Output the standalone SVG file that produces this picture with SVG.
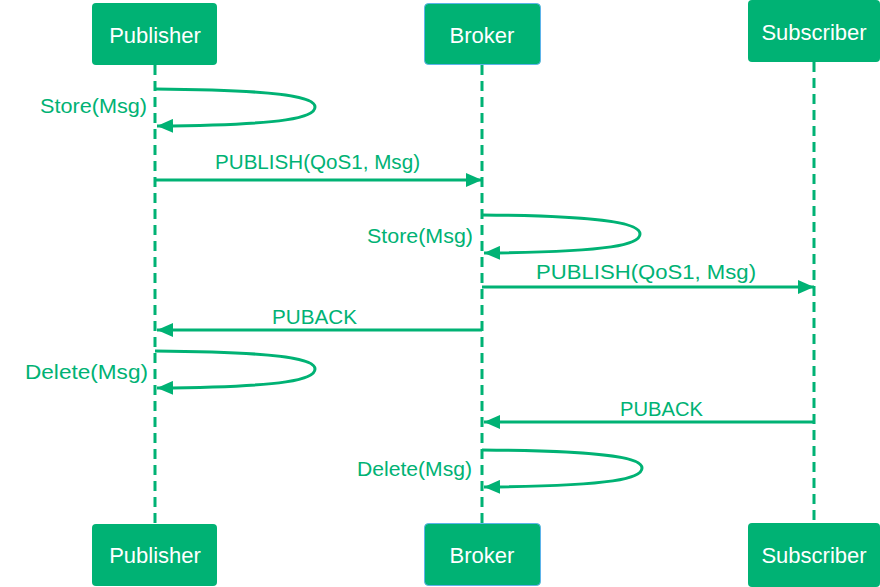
<svg xmlns="http://www.w3.org/2000/svg" width="880" height="587" viewBox="0 0 880 587">
<style>
.box{fill:#00B274;}
.bk{stroke:#5DB3EA;stroke-width:1;}
.title{font-family:"Liberation Sans",Arial,sans-serif;font-size:22px;fill:#ffffff;text-anchor:middle;}
.life{stroke:#00B274;stroke-width:3;stroke-dasharray:10 6;fill:none;}
.msg{stroke:#00B274;stroke-width:3;fill:none;marker-end:url(#ah);}
.lbl{font-family:"Liberation Sans",Arial,sans-serif;font-size:20px;fill:#00B274;}
</style>
<defs>
<marker id="ah" viewBox="0 0 16 14" refX="16" refY="7" markerWidth="16" markerHeight="14" markerUnits="userSpaceOnUse" orient="auto">
<path d="M0,0 L16,7 L0,14 z" fill="#00B274"/>
</marker>
</defs>
<rect width="880" height="587" fill="#ffffff"/>
<g id="lifelines">
<line class="life" x1="155" y1="65" x2="155" y2="524"/>
<line class="life" x1="482" y1="65" x2="482" y2="523"/>
<line class="life" x1="814" y1="62" x2="814" y2="523"/>
</g>
<g id="publisher-top"><rect class="box" x="92" y="3" width="125" height="62" rx="4"/><text class="title" x="155" y="43">Publisher</text></g>
<g id="broker-top"><rect class="box bk" x="424.5" y="3.5" width="116" height="61" rx="4"/><text class="title" x="482" y="43">Broker</text></g>
<g id="subscriber-top"><rect class="box" x="748" y="0" width="132" height="62" rx="4"/><text class="title" x="814" y="40">Subscriber</text></g>
<g id="publisher-bottom"><rect class="box" x="92" y="524" width="125" height="62" rx="4"/><text class="title" x="155" y="563">Publisher</text></g>
<g id="broker-bottom"><rect class="box bk" x="424.5" y="523.5" width="116" height="62" rx="4"/><text class="title" x="482" y="563">Broker</text></g>
<g id="subscriber-bottom"><rect class="box" x="748" y="523" width="132" height="64" rx="4"/><text class="title" x="814" y="563">Subscriber</text></g>
<g id="connectors">
<path class="msg" d="M155,89 C290,90 315,98 315,107 C315,117 290,125 157,126"/>
<text class="lbl" x="147" y="113" text-anchor="end" textLength="107" lengthAdjust="spacingAndGlyphs">Store(Msg)</text>
<path class="msg" d="M155,180 L482,180"/>
<text class="lbl" x="215" y="169" textLength="205" lengthAdjust="spacingAndGlyphs">PUBLISH(QoS1, Msg)</text>
<path class="msg" d="M482,215 C615,216 640,225 640,234 C640,244 615,252 484,253"/>
<text class="lbl" x="473" y="243" text-anchor="end" textLength="106" lengthAdjust="spacingAndGlyphs">Store(Msg)</text>
<path class="msg" d="M482,287 L814,287"/>
<text class="lbl" x="536" y="279" textLength="220" lengthAdjust="spacingAndGlyphs">PUBLISH(QoS1, Msg)</text>
<path class="msg" d="M482,330 L157,330"/>
<text class="lbl" x="272" y="324" textLength="85" lengthAdjust="spacingAndGlyphs">PUBACK</text>
<path class="msg" d="M155,351 C290,352 315,360 315,369 C315,379 290,387 157,388"/>
<text class="lbl" x="148" y="379" text-anchor="end" textLength="123" lengthAdjust="spacingAndGlyphs">Delete(Msg)</text>
<path class="msg" d="M814,422 L484,422"/>
<text class="lbl" x="620" y="416" textLength="83" lengthAdjust="spacingAndGlyphs">PUBACK</text>
<path class="msg" d="M482,450 C617,451 642,459 642,468 C642,478 617,486 484,487"/>
<text class="lbl" x="472" y="476" text-anchor="end" textLength="115" lengthAdjust="spacingAndGlyphs">Delete(Msg)</text>
</g>
</svg>
